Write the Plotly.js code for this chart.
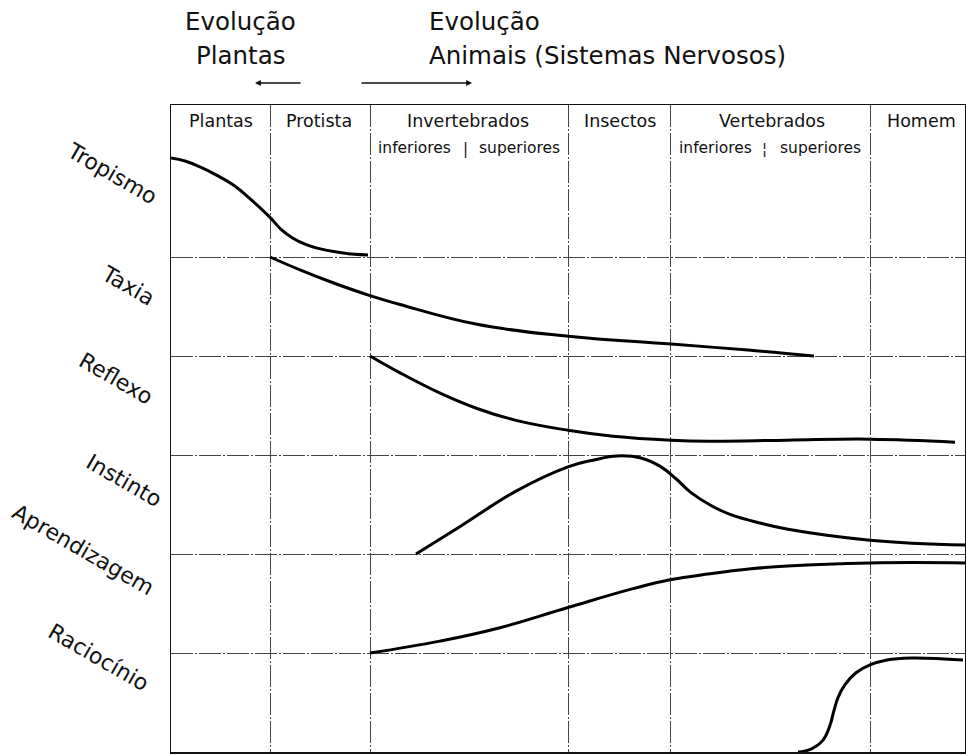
<!DOCTYPE html>
<html>
<head>
<meta charset="utf-8">
<script src="https://cdn.plot.ly/plotly-3.0.1.min.js"></script>
<style>html,body{margin:0;padding:0;background:#fff;}#chart{width:966px;height:755px;}</style>
</head>
<body>
<div id="chart"></div>
<script>
// ---- Data (x: horizontal evolution position; y: level within each behaviour row, 0 = row bottom, 1 = row top)
const columns = ["Plantas", "Protista", "Invertebrados", "Insectos", "Vertebrados", "Homem"];
const columnBounds = [0, 99, 199, 397, 499, 699, 794];
const columnCenters = [50, 148, 297, 449, 601, 750];
const subLabels = ["inferiores", "superiores", "inferiores", "superiores"];
const subCenters = [243, 348, 544, 649];
const subBars = ["|", "¦"];
const subBarX = [294, 593];

const rows = ["Tropismo", "Taxia", "Reflexo", "Instinto", "Aprendizagem", "Raciocínio"];
const rowBase = [5, 4, 3, 2, 1, 0];

const tropismoX = [0, 14, 29, 45, 62, 80, 99, 110, 122, 134, 146, 172, 197];
const tropismoY = [1.0, 0.97, 0.91, 0.83, 0.73, 0.58, 0.40, 0.28, 0.19, 0.13, 0.09, 0.04, 0.02];

const taxiaX = [99, 129, 162, 199, 229, 306, 397, 500, 577, 643];
const taxiaY = [1.0, 0.87, 0.74, 0.61, 0.52, 0.32, 0.20, 0.12, 0.06, 0.0];

const reflexoX = [199, 229, 268, 306, 345, 397, 442, 500, 538, 616, 699, 784];
const reflexoY = [1.0, 0.83, 0.63, 0.47, 0.35, 0.25, 0.19, 0.15, 0.14, 0.15, 0.16, 0.13];

const instintoX = [245, 288, 346, 397, 423, 446, 470, 490, 505, 520, 540, 559, 590, 617, 699, 794];
const instintoY = [0.0, 0.27, 0.64, 0.88, 0.95, 0.99, 0.97, 0.88, 0.76, 0.62, 0.49, 0.40, 0.31, 0.25, 0.14, 0.09];

const aprendX = [199, 269, 327, 397, 462, 499, 539, 580, 617, 699, 794];
const aprendY = [0.0, 0.12, 0.25, 0.46, 0.65, 0.74, 0.80, 0.85, 0.88, 0.91, 0.91];

const racioX = [627, 640, 652, 659, 663, 667, 674, 685, 699, 716, 740, 792];
const racioY = [0.0, 0.03, 0.12, 0.27, 0.42, 0.55, 0.68, 0.80, 0.88, 0.93, 0.95, 0.93];

const seriesX = [tropismoX, taxiaX, reflexoX, instintoX, aprendX, racioX];
const seriesY = [tropismoY, taxiaY, reflexoY, instintoY, aprendY, racioY];

// ---- Layout helpers
const FONT = "DejaVu Sans, Liberation Sans, Arial, sans-serif";
const PX0 = 171, PY0 = 752, PW = 794, PH = 647, ROWPX = 99;
const dy = py => (PY0 - py) / ROWPX;  // page pixel -> y data
const px2paper = px => (px - PX0) / PW;
const py2paper = py => (PY0 - py) / PH;

const traces = seriesY.map((ys, i) => ({
  type: "scatter",
  mode: "lines",
  x: seriesX[i],
  y: ys.map(v => v + rowBase[i]),
  line: {color: "#000", width: 3, shape: "spline", smoothing: 1.2},
  hoverinfo: "skip",
  showlegend: false,
  cliponaxis: false
}));

const annotations = [];
// column headers
columns.forEach((c, i) => annotations.push({
  x: columnCenters[i], y: dy(121), xref: "x", yref: "y", text: c, showarrow: false,
  font: {family: FONT, size: 17.5, color: "#111"}, xanchor: "center", yanchor: "middle"
}));
subLabels.forEach((s, i) => annotations.push({
  x: subCenters[i], y: dy(148), xref: "x", yref: "y", text: s, showarrow: false,
  font: {family: FONT, size: 15.5, color: "#111"}, xanchor: "center", yanchor: "middle"
}));
subBars.forEach((s, i) => annotations.push({
  x: subBarX[i], y: dy(149), xref: "x", yref: "y", text: s, showarrow: false,
  font: {family: FONT, size: 15, color: "#111"}, xanchor: "center", yanchor: "middle"
}));
// row labels (rotated), placed in paper coordinates outside the plot
const rowLabelPos = [[112, 174], [128, 285], [116, 378], [124, 480], [83, 549], [99, 657]];
rows.forEach((r, i) => annotations.push({
  x: px2paper(rowLabelPos[i][0]), y: py2paper(rowLabelPos[i][1]), xref: "paper", yref: "paper", text: r,
  showarrow: false, textangle: 30, font: {family: FONT, size: 22, color: "#111"},
  xanchor: "center", yanchor: "middle"
}));
// top titles
const titleFont = {family: FONT, size: 24.5, color: "#111"};
annotations.push({x: px2paper(240), y: py2paper(21), xref: "paper", yref: "paper", text: "Evolução",
  showarrow: false, font: titleFont, xanchor: "center", yanchor: "middle"});
annotations.push({x: px2paper(241), y: py2paper(56), xref: "paper", yref: "paper", text: "Plantas",
  showarrow: false, font: titleFont, xanchor: "center", yanchor: "middle"});
annotations.push({x: px2paper(427), y: py2paper(21), xref: "paper", yref: "paper", text: "Evolução",
  showarrow: false, font: titleFont, xanchor: "left", yanchor: "middle"});
annotations.push({x: px2paper(427), y: py2paper(56), xref: "paper", yref: "paper", text: "Animais (Sistemas Nervosos)",
  showarrow: false, font: titleFont, xanchor: "left", yanchor: "middle"});
// arrows
annotations.push({x: px2paper(255), y: py2paper(83), ax: px2paper(302), ay: py2paper(83),
  xref: "paper", yref: "paper", axref: "paper", ayref: "paper",
  text: "", showarrow: true, arrowhead: 2, arrowsize: 0.9, arrowwidth: 1.3, arrowcolor: "#111"});
annotations.push({x: px2paper(472), y: py2paper(83), ax: px2paper(360), ay: py2paper(83),
  xref: "paper", yref: "paper", axref: "paper", ayref: "paper",
  text: "", showarrow: true, arrowhead: 2, arrowsize: 0.9, arrowwidth: 1.3, arrowcolor: "#111"});

const layout = {
  width: 966, height: 755,
  margin: {l: 171, r: 1, t: 105, b: 3, pad: 0},
  paper_bgcolor: "#fff", plot_bgcolor: "#fff",
  showlegend: false,
  xaxis: {
    range: [columnBounds[0], columnBounds[columnBounds.length - 1]],
    tickvals: columnBounds.slice(1, -1), showticklabels: false, ticks: "",
    showgrid: true, gridcolor: "#444", gridwidth: 1, griddash: "22px,2px,2px,2px",
    zeroline: false, showline: true, mirror: true, linecolor: "#111", linewidth: 1.5,
    fixedrange: true
  },
  yaxis: {
    range: [0, dy(105)],
    tickvals: [1, 2, 3, 4, 5], showticklabels: false, ticks: "",
    showgrid: true, gridcolor: "#444", gridwidth: 1, griddash: "22px,2px,2px,2px",
    zeroline: false, showline: true, mirror: true, linecolor: "#111", linewidth: 1.5,
    fixedrange: true
  },
  annotations: annotations
};

Plotly.newPlot("chart", traces, layout, {staticPlot: true, displayModeBar: false});
</script>
</body>
</html>
